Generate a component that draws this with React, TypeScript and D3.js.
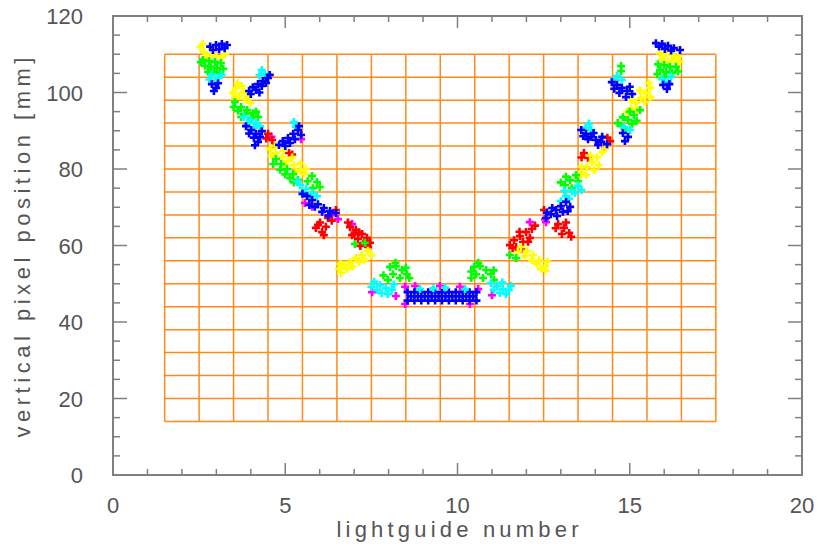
import React from 'react';
import * as d3 from 'd3';

type Pt = [number, number];

// lightguide number vs vertical pixel position [mm]
const magentaPoints: Pt[] = [
  [5.46, 87.8], [5.57, 71.1], [5.78, 70.1], [6.36, 68.0], [6.53, 66.9], [6.94, 65.6], [4.6, 88.4],
  [8.48, 49.2], [8.77, 49.4], [9.49, 49.4], [10.07, 49.2], [10.6, 48.6], [8.48, 44.7], [10.36, 44.7],
  [7.52, 47.8], [8.21, 46.8], [12.1, 66.1], [12.57, 66.1], [14.28, 85.5], [12.54, 66.9], [11.0, 47.0],
];

const redPoints: Pt[] = [
  [4.5, 89.2], [4.62, 87.6], [4.67, 86.0], [4.45, 88.0], [5.11, 84.2], [5.2, 83.8],
  [6.47, 69.3], [6.24, 67.2], [6.01, 66.0], [6.18, 64.9], [5.89, 64.6], [6.07, 63.5], [6.35, 66.5], [5.95, 65.4], [6.12, 62.7],
  [6.88, 64.8], [7.05, 64.1], [7.23, 63.0], [7.37, 62.0], [7.46, 60.7], [6.94, 62.7], [7.11, 61.7], [7.29, 60.7],
  [6.82, 66.0], [7.0, 63.0], [7.18, 59.9], [7.4, 59.6], [7.15, 63.4], [7.35, 61.2],
  [12.16, 64.3], [11.99, 63.5], [11.81, 62.5], [11.64, 61.4], [11.52, 60.1], [12.1, 62.0], [11.9, 60.9], [11.7, 59.6],
  [12.25, 65.2], [12.05, 61.0], [11.85, 59.0], [11.6, 59.3], [11.8, 63.6],
  [12.92, 65.6], [13.09, 64.6], [13.24, 63.3], [13.03, 63.0], [12.51, 69.3], [13.15, 66.0], [13.3, 62.3], [12.85, 64.5],
  [13.67, 84.2], [13.79, 82.9], [14.43, 87.3], [13.6, 83.0], [14.35, 88.2],
];

const yellowPoints: Pt[] = [
  [2.53, 111.9], [2.64, 110.6], [2.82, 109.8], [2.99, 109.5], [3.16, 109.3], [2.7, 109.0], [2.6, 112.6], [3.25, 110.0],
  [3.57, 101.2], [3.74, 101.7], [3.48, 99.9], [3.66, 99.1], [3.83, 98.3], [3.98, 97.3], [3.8, 100.1], [3.62, 102.4], [3.95, 99.0], [3.55, 98.5],
  [4.56, 85.2], [4.73, 84.2], [4.91, 83.1], [5.08, 82.1], [5.25, 81.0], [5.43, 79.7], [5.54, 78.7], [4.99, 81.3], [5.31, 79.2],
  [4.7, 86.0], [4.95, 84.8], [5.2, 83.0], [5.45, 81.5], [5.6, 80.0], [4.6, 83.5],
  [7.4, 58.6], [7.23, 57.5], [7.05, 56.7], [6.88, 55.7], [6.71, 54.9], [6.56, 53.9], [7.14, 55.7], [6.79, 53.9],
  [7.5, 57.4], [7.3, 56.3], [6.95, 54.5], [6.6, 55.2], [6.62, 52.8],
  [11.84, 59.6], [12.02, 58.6], [12.19, 57.5], [12.37, 56.2], [12.54, 54.6], [12.16, 56.2], [12.42, 53.9],
  [11.75, 58.3], [11.95, 57.2], [12.3, 55.2], [12.55, 53.4], [12.6, 55.8],
  [14.2, 84.4], [14.05, 83.1], [13.91, 81.8], [13.76, 80.5], [13.61, 79.2], [13.5, 77.9], [13.96, 79.7], [13.73, 78.4],
  [14.1, 81.0], [13.85, 83.5], [14.3, 85.5], [13.6, 80.6],
  [15.59, 101.2], [15.47, 99.9], [15.33, 98.6], [15.18, 97.3], [15.04, 95.9], [14.92, 94.9], [15.44, 97.5], [15.21, 95.4],
  [15.6, 98.8], [15.3, 100.5], [15.05, 98.0], [15.55, 102.5],
  [15.88, 110.3], [16.05, 110.1], [16.23, 109.8], [16.4, 109.5], [15.94, 108.8], [16.11, 108.2], [16.28, 108.5], [16.45, 108.0],
];

const greenPoints: Pt[] = [
  [2.61, 108.5], [2.79, 108.2], [2.96, 108.0], [3.13, 107.7], [2.67, 107.0], [2.84, 106.7], [3.02, 106.4], [2.76, 105.4],
  [2.93, 105.4], [3.2, 106.2], [3.1, 105.0], [2.55, 107.9],
  [3.54, 97.5], [3.72, 96.2], [3.89, 95.4], [4.06, 94.6], [4.21, 93.6], [3.63, 95.2], [3.83, 94.4], [4.01, 93.3],
  [3.5, 96.2], [4.15, 95.0], [3.72, 93.6],
  [4.73, 82.6], [4.88, 81.3], [5.05, 80.0], [5.23, 78.7], [5.37, 77.1], [5.14, 77.6], [4.65, 81.3], [4.85, 79.8], [5.0, 78.6], [5.25, 76.5],
  [5.78, 78.2], [5.92, 76.6], [5.8, 75.0], [5.65, 76.8], [6.0, 75.3],
  [7.02, 60.4], [7.31, 60.7],
  [8.04, 54.4], [8.21, 54.6], [8.39, 53.6], [8.53, 52.5], [8.13, 52.5], [8.33, 51.5], [7.98, 51.0], [8.2, 55.5], [8.5, 54.2], [8.6, 51.5], [7.85, 52.2],
  [10.48, 54.4], [10.65, 54.6], [10.83, 53.6], [10.97, 52.5], [10.54, 52.5], [10.74, 51.5], [11.06, 51.0], [10.6, 55.5], [10.4, 53.2], [10.4, 51.5], [11.05, 53.5],
  [11.52, 57.5], [11.7, 56.7],
  [13.44, 78.4], [13.27, 77.1], [13.12, 75.8], [13.32, 75.0], [13.5, 76.8], [13.15, 78.0], [13.0, 76.5],
  [15.3, 95.4], [15.12, 94.1], [14.95, 92.8], [14.77, 91.2], [14.89, 90.2], [15.07, 91.8], [15.2, 92.6], [14.8, 93.5], [15.0, 95.0], [14.65, 92.0],
  [14.75, 106.9], [14.75, 105.6],
  [15.82, 107.4], [16.0, 107.2], [16.17, 106.7], [16.34, 106.7], [15.88, 105.9], [16.05, 105.4], [16.23, 105.1], [16.0, 104.0], [16.4, 105.5], [15.8, 104.8],
];

const cyanPoints: Pt[] = [
  [2.87, 104.6], [3.05, 103.8], [2.96, 103.0], [3.15, 104.6], [2.8, 103.4],
  [4.32, 105.9], [4.41, 104.8], [4.25, 104.5],
  [3.8, 93.6], [3.98, 92.8], [4.15, 92.0], [4.27, 91.2], [3.9, 91.6], [4.1, 90.8],
  [5.25, 92.3], [5.31, 91.0],
  [5.43, 75.8], [5.6, 74.8], [5.78, 73.7], [5.92, 72.9], [5.5, 74.0], [5.7, 72.8], [5.35, 76.8],
  [7.58, 50.5], [7.75, 49.7], [7.92, 48.9], [8.1, 48.4], [7.66, 48.4], [7.98, 47.3], [7.5, 49.2], [7.8, 47.5], [8.15, 49.8],
  [10.97, 50.2], [11.15, 49.4], [11.32, 48.6], [11.49, 48.4], [11.23, 47.6], [11.41, 47.3], [11.55, 49.5], [11.05, 48.4], [11.3, 50.3],
  [13.5, 75.6], [13.32, 74.2], [13.15, 72.9], [13.0, 71.6], [13.41, 73.7], [13.24, 72.2], [13.6, 74.5], [13.1, 74.3],
  [13.82, 91.8], [13.88, 90.2], [13.72, 90.8],
  [14.83, 91.0], [15.01, 90.2],
  [14.63, 104.3], [14.77, 103.3], [14.55, 103.5],
  [15.94, 103.5], [16.11, 102.7], [16.2, 104.2],
];

const bluePoints: Pt[] = [
  [2.82, 112.0], [2.99, 112.4], [3.16, 112.7], [3.31, 112.4], [2.9, 111.1], [3.08, 111.3], [3.24, 111.6],
  [2.87, 102.2], [2.99, 101.2], [2.93, 100.4], [3.05, 102.4],
  [4.5, 103.8], [4.35, 103.0], [4.21, 102.2], [4.06, 101.4], [3.95, 100.4], [4.32, 101.7], [4.15, 100.7], [4.44, 102.5],
  [4.55, 104.6], [4.0, 99.6], [4.25, 100.0],
  [3.86, 91.2], [4.01, 90.2], [4.15, 89.2], [4.27, 88.4], [4.09, 88.2], [4.21, 87.1], [3.95, 89.3], [4.32, 89.9], [4.12, 86.2],
  [5.37, 90.2], [5.23, 89.2], [5.08, 88.1], [4.93, 87.3], [4.82, 86.3], [5.46, 88.9], [5.28, 87.8], [5.14, 86.8], [5.0, 86.0], [5.4, 91.2],
  [5.63, 72.9], [5.78, 71.9], [5.95, 70.8], [6.12, 69.8], [6.3, 69.0], [6.47, 68.5], [5.86, 70.1], [6.07, 68.8], [5.7, 70.6], [6.25, 67.8], [5.5, 73.5],
  // flat bottom bar around lightguide 9-10
  [8.55, 47.8], [8.75, 47.8], [8.95, 47.8], [9.15, 47.8], [9.35, 47.8], [9.55, 47.8], [9.75, 47.8], [9.95, 47.8], [10.15, 47.8], [10.35, 47.8], [10.55, 47.8],
  [8.65, 46.7], [8.85, 46.7], [9.05, 46.7], [9.25, 46.7], [9.45, 46.7], [9.65, 46.7], [9.85, 46.7], [10.05, 46.7], [10.25, 46.7], [10.45, 46.7],
  [8.55, 45.6], [8.75, 45.6], [8.95, 45.6], [9.15, 45.6], [9.35, 45.6], [9.55, 45.6], [9.75, 45.6], [9.95, 45.6], [10.15, 45.6], [10.35, 45.6], [10.55, 45.6],
  [13.15, 71.4], [13.0, 70.3], [12.86, 69.3], [12.71, 68.2], [12.57, 67.2], [13.27, 70.1], [13.06, 68.8], [12.89, 67.7], [12.75, 69.8], [13.2, 69.0], [12.6, 68.6],
  [13.59, 90.2], [13.73, 89.2], [13.88, 88.4], [14.02, 87.6], [14.17, 87.1], [14.34, 86.5], [13.79, 87.8], [14.08, 86.3], [13.95, 89.4], [14.2, 88.4], [13.65, 88.6],
  [14.48, 102.7], [14.63, 102.0], [14.77, 101.2], [14.92, 100.4], [15.07, 99.6], [14.7, 99.9], [14.89, 98.8], [14.55, 101.0], [15.0, 101.5],
  [14.8, 89.4], [14.95, 88.4], [14.86, 87.3],
  [15.76, 112.9], [15.94, 112.7], [16.11, 112.2], [16.28, 111.6], [16.46, 111.1], [16.02, 111.4], [16.2, 111.0], [15.85, 112.0],
  [15.97, 102.0], [16.08, 100.9], [16.15, 102.2],
];

// cyan specks sitting on top of the blue bar
const cyanBarPoints: Pt[] = [[8.91, 48.6], [9.64, 49.0], [10.22, 48.6], [9.3, 48.8]];

const xTickLabels = [0, 5, 10, 15, 20];
const yTickLabels = [0, 20, 40, 60, 80, 100, 120];

const series = [
  { color: '#ff00ff', points: magentaPoints },
  { color: '#ff0000', points: redPoints },
  { color: '#ffff00', points: yellowPoints },
  { color: '#00ff00', points: greenPoints },
  { color: '#00ffff', points: cyanPoints },
  { color: '#0000ff', points: bluePoints },
  { color: '#00ffff', points: cyanBarPoints },
];

const W = 818;
const H = 548;
const left = 113, right = 802, top = 16, bottom = 475;
const axisColor = '#808080';
const textColor = '#555555';
const font = '"Liberation Sans", Arial, sans-serif';

export default function App() {
  const x = d3.scaleLinear().domain([0, 20]).range([left, right]);
  const y = d3.scaleLinear().domain([0, 120]).range([bottom, top]);

  const gridCols = d3.range(1.5, 17.51, 1);
  const gridRows = d3.range(14, 110.01, 6);
  const xTicks = d3.range(0, 21, 1);
  const yTicks = d3.range(0, 121, 5);
  const arm = 4;

  return (
    <svg width={W} height={H} style={{ position: 'fixed', left: 0, top: 0, background: '#fff' }}>
      {/* orange lightguide grid */}
      <g stroke="#ff8a1a" strokeWidth={1.5}>
        {gridCols.map((c) => (
          <line key={'c' + c} x1={x(c)} x2={x(c)} y1={y(14)} y2={y(110)} />
        ))}
        {gridRows.map((r) => (
          <line key={'r' + r} x1={x(1.5)} x2={x(17.5)} y1={y(r)} y2={y(r)} />
        ))}
      </g>

      {/* scatter of plus markers */}
      {series.map((s, si) => (
        <g key={si} stroke={s.color} strokeWidth={2.6}>
          {s.points.map(([px, py], i) => (
            <path
              key={i}
              d={`M${x(px) - arm},${y(py)}H${x(px) + arm}M${x(px)},${y(py) - arm}V${y(py) + arm}`}
            />
          ))}
        </g>
      ))}

      {/* frame and ticks */}
      <g stroke={axisColor} fill="none">
        <rect x={left} y={top} width={right - left} height={bottom - top} strokeWidth={2} />
        {xTicks.map((t) => {
          const len = t % 5 === 0 ? 12 : 6;
          return (
            <g key={'xt' + t} strokeWidth={1.5}>
              <line x1={x(t)} x2={x(t)} y1={bottom} y2={bottom - len} />
              <line x1={x(t)} x2={x(t)} y1={top} y2={top + len} />
            </g>
          );
        })}
        {yTicks.map((t) => {
          const len = t % 20 === 0 ? 14 : 7;
          return (
            <g key={'yt' + t} strokeWidth={1.5}>
              <line x1={left} x2={left + len} y1={y(t)} y2={y(t)} />
              <line x1={right} x2={right - len} y1={y(t)} y2={y(t)} />
            </g>
          );
        })}
      </g>

      {/* tick labels */}
      <g fill={textColor} fontFamily={font} fontSize={22}>
        {xTickLabels.map((t) => (
          <text key={'xl' + t} x={x(t)} y={bottom + 38} textAnchor="middle">
            {t}
          </text>
        ))}
        {yTickLabels.map((t) => (
          <text key={'yl' + t} x={left - 30} y={y(t) + 8} textAnchor="end">
            {t}
          </text>
        ))}
      </g>

      {/* axis titles */}
      <text
        x={x(10)}
        y={537}
        textAnchor="middle"
        fill={textColor}
        fontFamily={font}
        fontSize={22}
        textLength={242}
        lengthAdjust="spacing"
      >
        lightguide number
      </text>
      <text
        transform={`translate(30,${(top + bottom) / 2 + 2}) rotate(-90)`}
        textAnchor="middle"
        fill={textColor}
        fontFamily={font}
        fontSize={22}
        textLength={380}
        lengthAdjust="spacing"
      >
        vertical pixel position [mm]
      </text>
    </svg>
  );
}
